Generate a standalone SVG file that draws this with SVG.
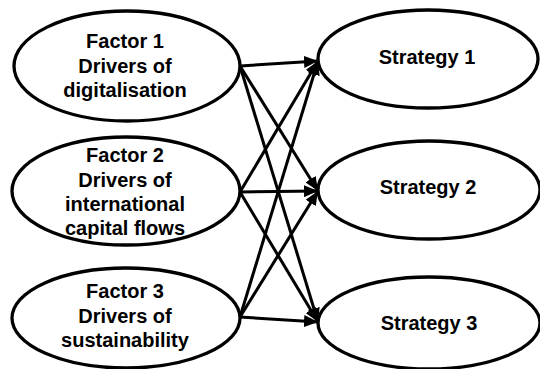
<svg xmlns="http://www.w3.org/2000/svg" width="540" height="369" viewBox="0 0 540 369">
<style>
.node ellipse{fill:#fff;stroke:#000;stroke-width:3.3}
.node text{font-family:"Liberation Sans",Arial,sans-serif;font-weight:bold;font-size:20px;text-anchor:middle;fill:#000}
.conn line{stroke:#000;stroke-width:3;marker-end:url(#ah)}
</style>
<defs>
<marker id="ah" markerUnits="userSpaceOnUse" markerWidth="16" markerHeight="12" refX="14" refY="6" orient="auto">
<path d="M0,0 L14,6 L0,12 Z" fill="#000"/>
</marker>
</defs>
<rect width="540" height="369" fill="#fff"/>
<g id="f1" class="node">
<ellipse cx="127" cy="66" rx="113" ry="55"/>
<text x="125" y="48">Factor 1</text>
<text x="125" y="73">Drivers of</text>
<text x="125" y="97">digitalisation</text>
</g>
<g id="f2" class="node">
<ellipse cx="126" cy="191" rx="114" ry="54"/>
<text x="125" y="162">Factor 2</text>
<text x="125" y="187">Drivers of</text>
<text x="125" y="211">international</text>
<text x="125" y="235">capital flows</text>
</g>
<g id="f3" class="node">
<ellipse cx="126" cy="318" rx="114" ry="50"/>
<text x="125" y="298">Factor 3</text>
<text x="125" y="323">Drivers of</text>
<text x="125" y="347">sustainability</text>
</g>
<g id="s1" class="node">
<ellipse cx="428" cy="59" rx="110" ry="49"/>
<text x="427" y="64">Strategy 1</text>
</g>
<g id="s2" class="node">
<ellipse cx="429" cy="190" rx="111" ry="49"/>
<text x="428" y="194">Strategy 2</text>
</g>
<g id="s3" class="node">
<ellipse cx="429" cy="323" rx="111" ry="46"/>
<text x="429" y="330">Strategy 3</text>
</g>
<g id="connectors" class="conn">
<line x1="240" y1="66" x2="318" y2="61"/>
<line x1="240" y1="66" x2="318" y2="191"/>
<line x1="240" y1="66" x2="318" y2="322"/>
<line x1="240" y1="192" x2="318" y2="61"/>
<line x1="240" y1="192" x2="318" y2="191"/>
<line x1="240" y1="192" x2="318" y2="322"/>
<line x1="240" y1="317" x2="318" y2="61"/>
<line x1="240" y1="317" x2="318" y2="191"/>
<line x1="240" y1="317" x2="318" y2="322"/>
</g>
</svg>
